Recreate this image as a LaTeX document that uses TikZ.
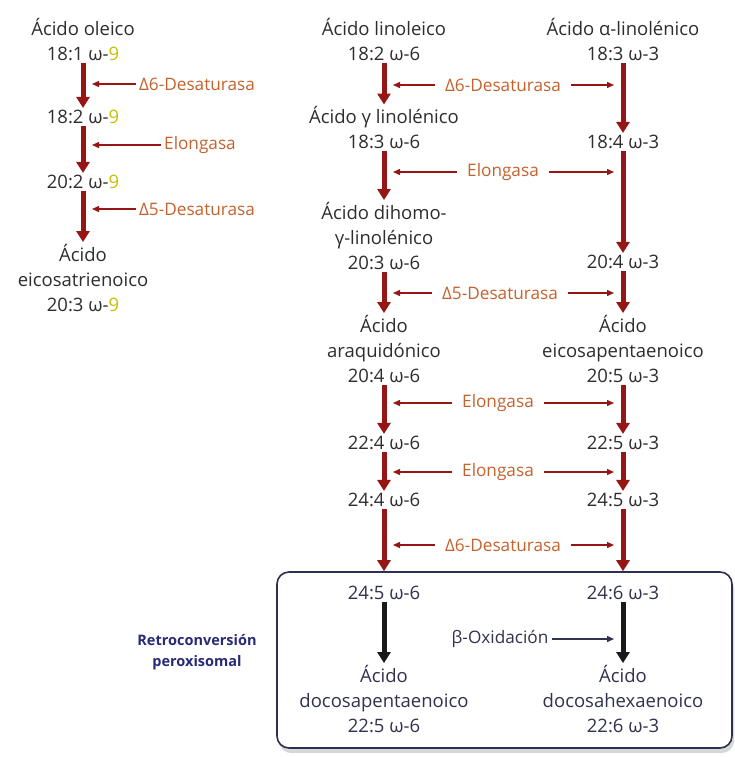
\documentclass[tikz,border=0pt]{standalone}
\usepackage{fontspec}
\setmainfont{Open Sans}
\usetikzlibrary{arrows.meta, positioning, shadows}

\definecolor{flowred}{RGB}{150,22,22}
\definecolor{enzorange}{RGB}{196,98,46}
\definecolor{ninegold}{RGB}{200,190,0}
\definecolor{navy}{RGB}{40,42,120}
\definecolor{inkgray}{RGB}{45,45,45}
\definecolor{boxink}{RGB}{48,50,78}
\definecolor{boxline}{RGB}{45,48,80}
\newcommand{\nine}{\textcolor{ninegold}{9}}

\tikzset{
  acid/.style={align=center, inner sep=2pt, text=inkgray, font=\fontsize{18.5}{25}\selectfont},
  enzyme/.style={text=enzorange, inner sep=3pt, font=\fontsize{17.2}{20}\selectfont},
  flow/.style={draw=flowred, line width=5pt, -{Triangle[length=11pt,width=13pt]}},
  tie/.style={draw=flowred, line width=1.4pt, -{Triangle[length=7pt,width=6pt]}, shorten >=9pt},
  backflow/.style={draw=black!90, line width=5pt, -{Triangle[length=11pt,width=13pt]}},
  perbox/.style={draw=boxline, line width=1.6pt, rounded corners=12pt, fill=white,
    drop shadow={shadow xshift=2pt, shadow yshift=-5pt, fill=black!30, opacity=0.5}},
}

\begin{document}
\begin{tikzpicture}[x=1pt, y=-1pt]
        \useasboundingbox (0,0) rectangle (735,757);

        % Omega-9 pathway
        \node (ole) [acid] at (83,40) {Ácido oleico\\18:1 ω-\nine};
        \node (o182) [acid] at (83,117) {18:2 ω-\nine};
        \node (o202) [acid] at (83,182) {20:2 ω-\nine};
        \node (eico) [acid] at (83,278) {Ácido\\eicosatrienoico\\20:3 ω-\nine};

        \draw[flow] (ole) -- (o182);
        \draw[flow] (o182) -- (o202);
        \draw[flow] (o202) -- (eico);

        \node (ld6) [enzyme] at (197,84) {Δ6-Desaturasa};
        \node (lelo) [enzyme] at (200,145) {Elongasa};
        \node (ld5) [enzyme] at (197,209) {Δ5-Desaturasa};

        \draw[tie] (ld6.west) -- (ld6.west -| ole);
        \draw[tie] (lelo.west) -- (lelo.west -| ole);
        \draw[tie] (ld5.west) -- (ld5.west -| ole);

        % Omega-6 and omega-3 pathways
        \node (lin) [acid] at (384,40) {Ácido linoleico\\18:2 ω-6};
        \node (ala) [acid] at (623,40) {Ácido α-linolénico\\18:3 ω-3};
        \node (gla) [acid] at (384,128) {Ácido γ linolénico\\18:3 ω-6};
        \node (s184) [acid] at (623,142) {18:4 ω-3};
        \node (dgla) [acid] at (384,236) {Ácido dihomo-\\γ-linolénico\\20:3 ω-6};
        \node (s204) [acid] at (623,262) {20:4 ω-3};
        \node (ara) [acid] at (384,349) {Ácido\\araquidónico\\20:4 ω-6};
        \node (epa) [acid] at (623,349) {Ácido\\eicosapentaenoico\\20:5 ω-3};
        \node (n224) [acid] at (384,443) {22:4 ω-6};
        \node (n225) [acid] at (623,443) {22:5 ω-3};
        \node (n244) [acid] at (384,500) {24:4 ω-6};
        \node (n245) [acid] at (623,500) {24:5 ω-3};

        \draw[flow] (lin) -- (gla);
        \draw[flow] (ala) -- (s184);
        \draw[flow] (gla) -- (dgla);
        \draw[flow] (s184) -- (s204);
        \draw[flow] (dgla) -- (ara);
        \draw[flow] (s204) -- (epa);
        \draw[flow] (ara) -- (n224);
        \draw[flow] (epa) -- (n225);
        \draw[flow] (n224) -- (n244);
        \draw[flow] (n225) -- (n245);

        \node (md6) [enzyme, inner xsep=10pt] at (503,85) {Δ6-Desaturasa};
        \node (melo) [enzyme, inner xsep=10pt] at (503,172) {Elongasa};
        \node (md5) [enzyme, inner xsep=10pt] at (500,293) {Δ5-Desaturasa};
        \node (melob) [enzyme, inner xsep=10pt] at (498,403) {Elongasa};
        \node (meloc) [enzyme, inner xsep=10pt] at (498,472) {Elongasa};
        \node (md6b) [enzyme, inner xsep=10pt] at (503,545) {Δ6-Desaturasa};

        \foreach \e in {md6, melo, md5, melob, meloc, md6b} {
          \draw[tie] (\e.west) -- (\e.west -| lin);
          \draw[tie] (\e.east) -- (\e.east -| ala);
        }

        % Peroxisome
        \node (perox) [perbox, minimum width=455pt, minimum height=176pt] at (504.5,660) {};
        \node (retro) [align=center, text=navy, font=\fontsize{14.5}{21}\bfseries\selectfont] at (197,652) {Retroconversión\\peroxisomal};

        \draw[flow] (n244) -- (n244 |- perox.north);
        \draw[flow] (n245) -- (n245 |- perox.north);

        \node (p245) [acid, text=boxink] at (384,593) {24:5 ω-6};
        \node (p246) [acid, text=boxink] at (623,593) {24:6 ω-3};
        \node (dpa) [acid, text=boxink] at (384,699) {Ácido\\docosapentaenoico\\22:5 ω-6};
        \node (dha) [acid, text=boxink] at (623,699) {Ácido\\docosahexaenoico\\22:6 ω-3};

        \draw[backflow] (p245) -- (dpa);
        \draw[backflow] (p246) -- (dha);

        \node (boxid) [enzyme, text=boxink] at (500,639) {β-Oxidación};
        \draw[tie, draw=boxink] (boxid.east) -- (boxid.east -| p246);
    \end{tikzpicture}
\end{document}
